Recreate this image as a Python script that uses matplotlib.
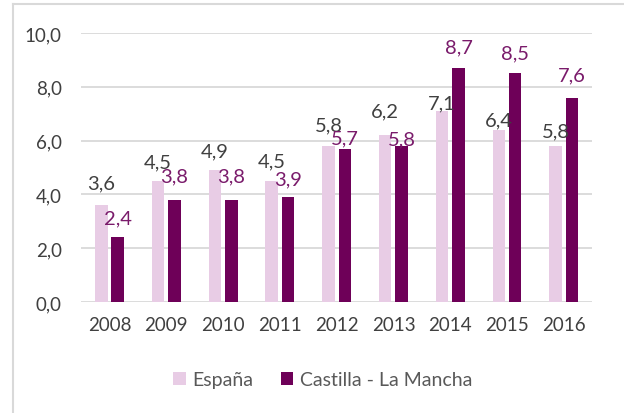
import matplotlib
matplotlib.use("Agg")
import matplotlib.pyplot as plt
from matplotlib.lines import Line2D
import numpy as np

plt.rcParams['font.family'] = ['Lato', 'DejaVu Sans']

years = ["2008", "2009", "2010", "2011", "2012", "2013", "2014", "2015", "2016"]
espana = [3.6, 4.5, 4.9, 4.5, 5.8, 6.2, 7.1, 6.4, 5.8]
clm = [2.4, 3.8, 3.8, 3.9, 5.7, 5.8, 8.7, 8.5, 7.6]
yticks = [0, 2, 4, 6, 8, 10]

# label gaps above bar tops (pixels), as placed in the original chart
gap_es = [17, 14, 14, 15, 16, 19, 3, 4, 10]
gap_clm = [14, 18, 18, 13, 5, 2, 16, 15, 17]

c_es = "#E8CCE5"
c_clm = "#6E0058"
lab_es = "#404040"
lab_clm = "#7A1B6B"

fig = plt.figure(figsize=(6.24, 4.14), dpi=100)
ax = fig.add_axes([0.13, 0.268, 0.819, 0.65])

x = np.arange(len(years))
w = 0.22
off = 0.145
b1 = ax.bar(x - off, espana, w, color=c_es, label="España", zorder=3)
b2 = ax.bar(x + off, clm, w, color=c_clm, label="Castilla - La Mancha", zorder=3)

px2pt = 72 / 100
for xi, v, g in zip(x, espana, gap_es):
    ax.annotate(f"{v:.1f}".replace(".", ","), (xi - off, v), xytext=(0, g * px2pt),
                textcoords="offset points", ha="center", va="baseline",
                fontsize=14.5, color=lab_es, zorder=4)
for xi, v, g in zip(x, clm, gap_clm):
    ax.annotate(f"{v:.1f}".replace(".", ","), (xi + off, v), xytext=(0, g * px2pt),
                textcoords="offset points", ha="center", va="baseline",
                fontsize=14.5, color=lab_clm, zorder=4)

ax.set_xlim(-0.5, len(years) - 0.5)
ax.set_ylim(0, 10)
ax.set_yticks(yticks)
ax.set_yticklabels([f"{t:.1f}".replace(".", ",") for t in yticks])
ax.set_xticks(x)
ax.set_xticklabels(years)
ax.tick_params(axis="both", length=0, labelsize=13.5, labelcolor="#404040")
ax.tick_params(axis="y", pad=14)
ax.tick_params(axis="x", pad=10)
ax.grid(axis="y", color="#D9D9D9", linewidth=1.3, zorder=0)
for s in ax.spines.values():
    s.set_visible(False)

leg = fig.legend(handles=[b1, b2], loc="center", bbox_to_anchor=(0.517, 0.08), ncol=2,
                 frameon=False, fontsize=14, handlelength=0.65, handleheight=0.65,
                 columnspacing=1.4, handletextpad=0.35)
for t in leg.get_texts():
    t.set_color("#595959")

# chart frame: only top and left edges are visible in the crop
fig.add_artist(Line2D([0.0209, 0.0209], [0.0, 0.988], transform=fig.transFigure,
                      color="#D9D9D9", linewidth=1.5))
fig.add_artist(Line2D([0.0209, 1.0], [0.988, 0.988], transform=fig.transFigure,
                      color="#D9D9D9", linewidth=1.5))

fig.savefig("out.png", dpi=100)
